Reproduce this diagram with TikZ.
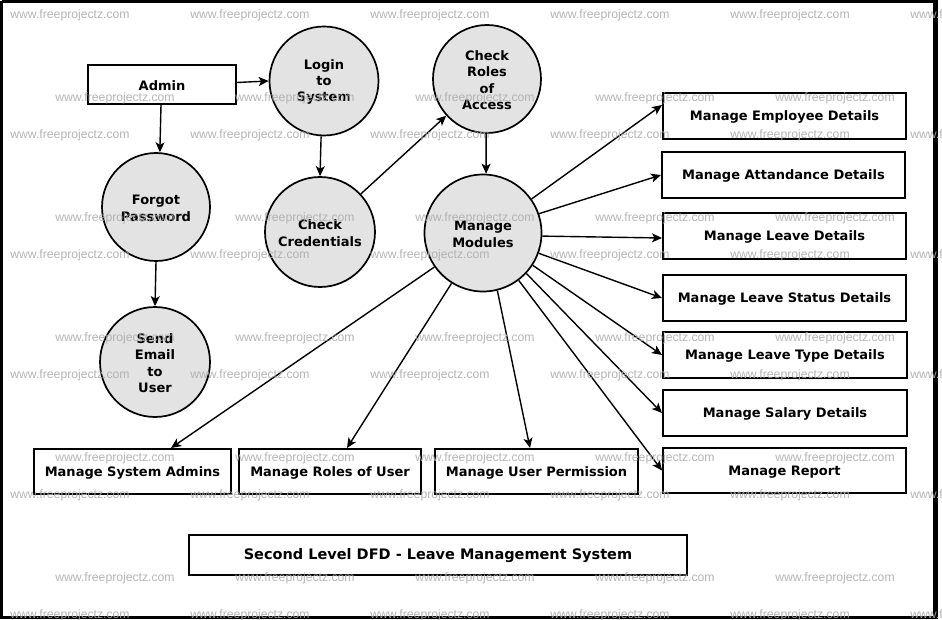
\documentclass[tikz,border=0pt]{standalone}
\usepackage{fontspec}
\setmainfont{DejaVu Sans}
\newfontfamily\wmfont{Liberation Sans}
\usetikzlibrary{arrows.meta}
\definecolor{procfill}{HTML}{E3E3E3}
\definecolor{wmgray}{HTML}{ADADAD}
\newcommand\lblfont{\fontsize{13}{16.2}\selectfont\bfseries}
\newcommand\titlefont{\fontsize{14.5}{17}\selectfont\bfseries}
\newcommand\up{\rule{0pt}{12.3pt}}
\begin{document}
\begin{tikzpicture}[x=1pt,y=-1pt,
  proc/.style={circle,draw,line width=1.7pt,fill=procfill,inner sep=0pt,align=center,font=\lblfont},
  ent/.style={rectangle,draw,line width=2pt,inner sep=0pt,align=center,font=\lblfont},
  flow/.style={line width=1.4pt,-{Stealth[length=10pt,width=9pt,inset=2.5pt]}},
  wm/.style={text=wmgray,font=\wmfont\fontsize{12.2}{14}\selectfont,inner sep=0pt,text opacity=0.9}]
\useasboundingbox (0,0) rectangle (942,620);
\fill[white] (0,0) rectangle (942,620);
\draw[line width=3pt] (1.5,1.5) -- (935.5,1.5);
\draw[line width=3pt] (1.5,1.5) -- (1.5,617.5) -- (935.5,617.5);
\draw[line width=4.5pt] (935.5,0) -- (935.5,619);

% external entity and processes
\node[ent,minimum width=148pt,minimum height=39pt] (admin) at (162,84.5) {\up Admin};
\node[proc,minimum size=109pt] (login) at (324,81) {\up Login\\to\\System};
\node[proc,minimum size=110pt] (cc) at (320,232) {\up Check\\Credentials};
\node[proc,minimum size=108pt] (forgot) at (156,207) {\up Forgot\\Password};
\node[proc,minimum size=110pt] (send) at (155,362) {\up Send\\Email\\to\\User};
\node[proc,minimum size=108pt] (roles) at (487,79) {\up Check\\Roles\\of\\Access};
\node[proc,minimum size=117pt] (mm) at (483,233) {\up Manage\\Modules};

% right boxes
\node[ent,minimum width=243pt,minimum height=46pt] (emp) at (784.5,116) {\up Manage Employee Details};
\node[ent,minimum width=243pt,minimum height=46pt] (att) at (783.5,175) {\up Manage Attandance Details};
\node[ent,minimum width=243pt,minimum height=46pt] (ld) at (784.5,236) {\up Manage Leave Details};
\node[ent,minimum width=243pt,minimum height=46pt] (ls) at (784.5,298) {\up Manage Leave Status Details};
\node[ent,minimum width=244pt,minimum height=46pt] (lt) at (785,355) {\up Manage Leave Type Details};
\node[ent,minimum width=244pt,minimum height=46pt] (sal) at (785,413) {\up Manage Salary Details};
\node[ent,minimum width=243pt,minimum height=45pt] (rep) at (784.5,470.5) {\up Manage Report};

% bottom boxes
\node[ent,minimum width=197pt,minimum height=45pt] (sa) at (132.5,471.5) {\up Manage System Admins};
\node[ent,minimum width=182pt,minimum height=45pt] (ru) at (330,471.5) {\up Manage Roles of User};
\node[ent,minimum width=203pt,minimum height=45pt] (up) at (536.5,471.5) {\up Manage User Permission};
\node[ent,font=\titlefont,minimum width=498pt,minimum height=40pt] (title) at (438,555) {\up Second Level DFD - Leave Management System};

% flows
\draw[flow] ([yshift=2pt]admin.east) -- (login.180);
\draw[flow] ([xshift=-1pt]admin.south) -- (forgot.86);
\draw[flow] (forgot.south) -- (send.north);
\draw[flow] (login.-93) -- (cc.north);
\draw[flow] (cc.43) -- (roles.222);
\draw[flow] (roles.-91) -- (mm.87);
\draw[flow] (mm.35) -- ([yshift=11pt]emp.west);
\draw[flow] (mm.19) -- (att.west);
\draw[flow] (mm.-3) -- ([yshift=-2pt]ld.west);
\draw[flow] (mm.-20) -- (ls.west);
\draw[flow] (mm.-33) -- (lt.west);
\draw[flow] (mm.-43) -- (sal.west);
\draw[flow] (mm.-53) -- (rep.west);
\draw[flow] (mm.-76) -- ([xshift=-6.5pt]up.north);
\draw[flow] (mm.-122) -- ([xshift=17pt]ru.north);
\draw[flow] (mm.-145) -- ([xshift=38.5pt]sa.north);

% watermark
\foreach \y in {15,135,255,375,495,615}
  \foreach \x in {70,250,430,610,790,970}
    \node[wm] (wa-\x-\y) at (\x,\y) {www.freeprojectz.com};
\foreach \y in {98,218,338,458,578}
  \foreach \x in {115,295,475,655,835}
    \node[wm] (wb-\x-\y) at (\x,\y) {www.freeprojectz.com};
\end{tikzpicture}
\end{document}
